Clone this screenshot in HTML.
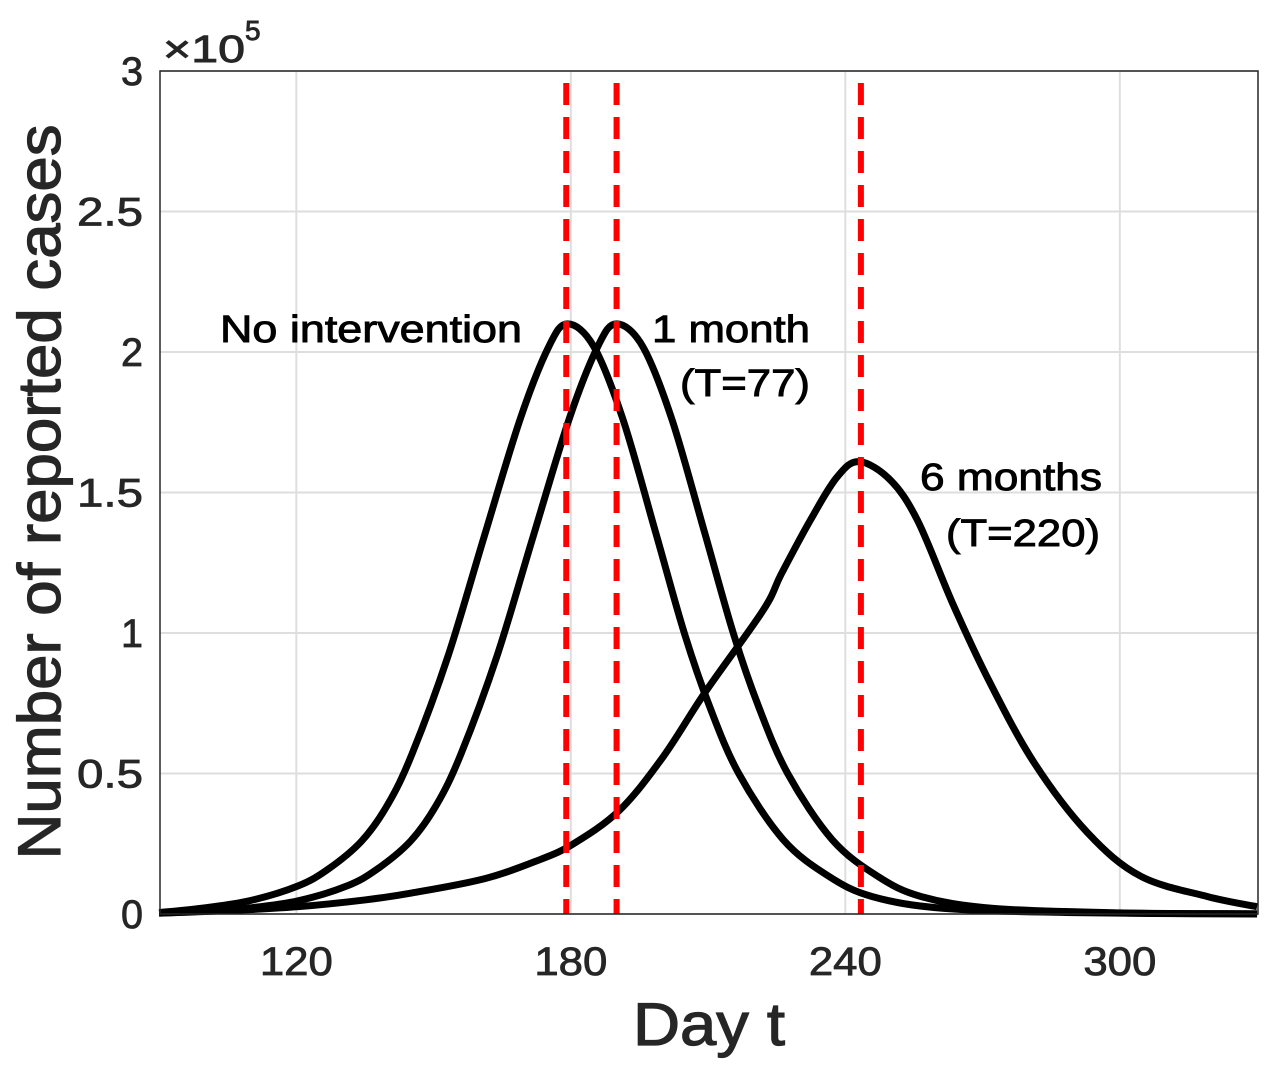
<!DOCTYPE html>
<html><head><meta charset="utf-8"><style>
body{margin:0;background:#fff;}
svg{display:block;font-family:"Liberation Sans","Noto Sans CJK JP",sans-serif;}
</style></head><body>
<svg id="chart" width="1272" height="1071" xmlns="http://www.w3.org/2000/svg"></svg>
<script>
const xTicks=[120,180,240,300];
const yTicks=[0,0.5,1,1.5,2,2.5,3];
const yTickLabels=["0","0.5","1","1.5","2","2.5","3"];
const noDays=[90,100,110,120.4,127,134.3,140,145.3,153.2,161,168.9,175.2,179.3,185,191.4,198.5,204.8,210.3,216.7,226.4,236.3,245.9,261.6,290,330];
const noVals=[0.005,0.022,0.048,0.10,0.16,0.26,0.39,0.57,0.92,1.34,1.76,2.02,2.1,2.02,1.76,1.36,1.0,0.74,0.5,0.265,0.135,0.062,0.02,0.005,0];
const m1Days=[90,100,110,120.4,131.1,137.7,145,150.7,156,163.9,171.7,179.6,185.9,190,195.7,202.1,209.2,215.5,221,227.4,237.1,247,256.6,272.3,300,330];
const m1Vals=[0.003,0.01,0.022,0.047,0.10,0.16,0.26,0.39,0.57,0.92,1.34,1.76,2.02,2.1,2.02,1.76,1.36,1.0,0.74,0.5,0.265,0.135,0.062,0.02,0.004,0.001];
const m6Days=[90,105,120.4,135,145.3,161,172.7,180.6,190.7,200.2,209.4,222,226,232.3,238.2,243,249.8,255.8,263.6,271.4,281.2,292.9,304.5,319.2,330];
const m6Vals=[0.003,0.012,0.026,0.05,0.075,0.125,0.19,0.25,0.37,0.56,0.79,1.08,1.21,1.40,1.555,1.61,1.545,1.40,1.10,0.83,0.54,0.29,0.135,0.062,0.026];
const peakDays=[179,190,243.4];
const X0=160,X1=1258,Y0=914,Y1=71,dMin=90.2,dMax=330.2;
const sx=d=>X0+(d-dMin)/(dMax-dMin)*(X1-X0);
const sy=v=>Y0-v/3*(Y0-Y1);
const svg=document.getElementById('chart');
const NS='http://www.w3.org/2000/svg';
function mk(tag,attrs,parent){const e=document.createElementNS(NS,tag);for(const k in attrs)e.setAttribute(k,attrs[k]);(parent||svg).appendChild(e);return e;}
yTicks.forEach((t,i)=>{const g=mk('line',{x1:X0,x2:X1,y1:sy(t),y2:sy(t),stroke:'#dedede','stroke-width':2});


const s=yTickLabels[i];
const tl=mk('text',{x:143,y:sy(t)+14,'text-anchor':'end','font-size':40,fill:'#262626',stroke:'#262626','stroke-width':0.8,textLength:s.length*22,lengthAdjust:'spacingAndGlyphs'});tl.textContent=s;

});
xTicks.forEach(t=>{const g=mk('line',{x1:sx(t),x2:sx(t),y1:Y0,y2:Y1,stroke:'#dedede','stroke-width':2});


const tl=mk('text',{x:sx(t),y:975,'text-anchor':'middle','font-size':40,fill:'#262626',stroke:'#262626','stroke-width':0.8,textLength:73,lengthAdjust:'spacingAndGlyphs'});tl.textContent=t;

});
function path(days,vals,name){
 const p=days.map((d,i)=>[sx(d),sy(vals[i])]);
 let s='M'+p[0][0]+','+p[0][1];
 for(let i=0;i<p.length-1;i++){const a=p[i-1]||p[i],b=p[i],c=p[i+1],d=p[i+2]||c;
  s+=` C${b[0]+(c[0]-a[0])/6},${b[1]+(c[1]-a[1])/6} ${c[0]-(d[0]-b[0])/6},${c[1]-(d[1]-b[1])/6} ${c[0]},${c[1]}`;}
 const e=mk('path',{d:s,fill:'none',stroke:'#000','stroke-width':7,'stroke-linejoin':'round'});
 
 
}
path(noDays,noVals,'no-intervention-curve');
path(m1Days,m1Vals,'one-month-curve');
path(m6Days,m6Vals,'six-months-curve');
peakDays.forEach(d=>{const e=mk('line',{x1:sx(d),x2:sx(d),y1:Y1+12,y2:Y0,stroke:'#ff0000','stroke-width':6,'stroke-dasharray':'22,12'});

});
const box=mk('rect',{x:X0,y:Y1,width:X1-X0,height:Y0-Y1,fill:'none',stroke:'#262626','stroke-width':1.5});


function txt(x,y,s,size,name,len,anchor,extra){const a=Object.assign({x:x,y:y,'font-size':size,fill:'#000',stroke:'#000','stroke-width':0.9,'text-anchor':anchor||'start'},extra||{});
 if(len){a.textLength=len;a.lengthAdjust='spacingAndGlyphs';}
 const e=mk('text',a);e.textContent=s;

return e;}
txt(220,342,'No intervention',38,'label-no-intervention',302);
txt(652,342,'1 month',38,'label-one-month',158);
txt(680,396,'(T=77)',38,'label-t77',130);
txt(920,490,'6 months',38,'label-six-months',182);
txt(946,546,'(T=220)',38,'label-t220',154);
txt(163,62,'×10',38,'y-exponent',82,'start',{fill:'#262626',stroke:'#262626'});
txt(245,40,'5',28,'y-exponent-power',null,'start',{fill:'#262626',stroke:'#262626'});
txt(709,1045,'Day t',60,'x-axis-title',152,'middle',{fill:'#262626',stroke:'#262626','stroke-width':1.2});
txt(60,492,'Number of reported cases',60,'y-axis-title',735,'middle',{fill:'#262626',stroke:'#262626','stroke-width':1.2,transform:'rotate(-90 60 492)'});
</script>
</body></html>
